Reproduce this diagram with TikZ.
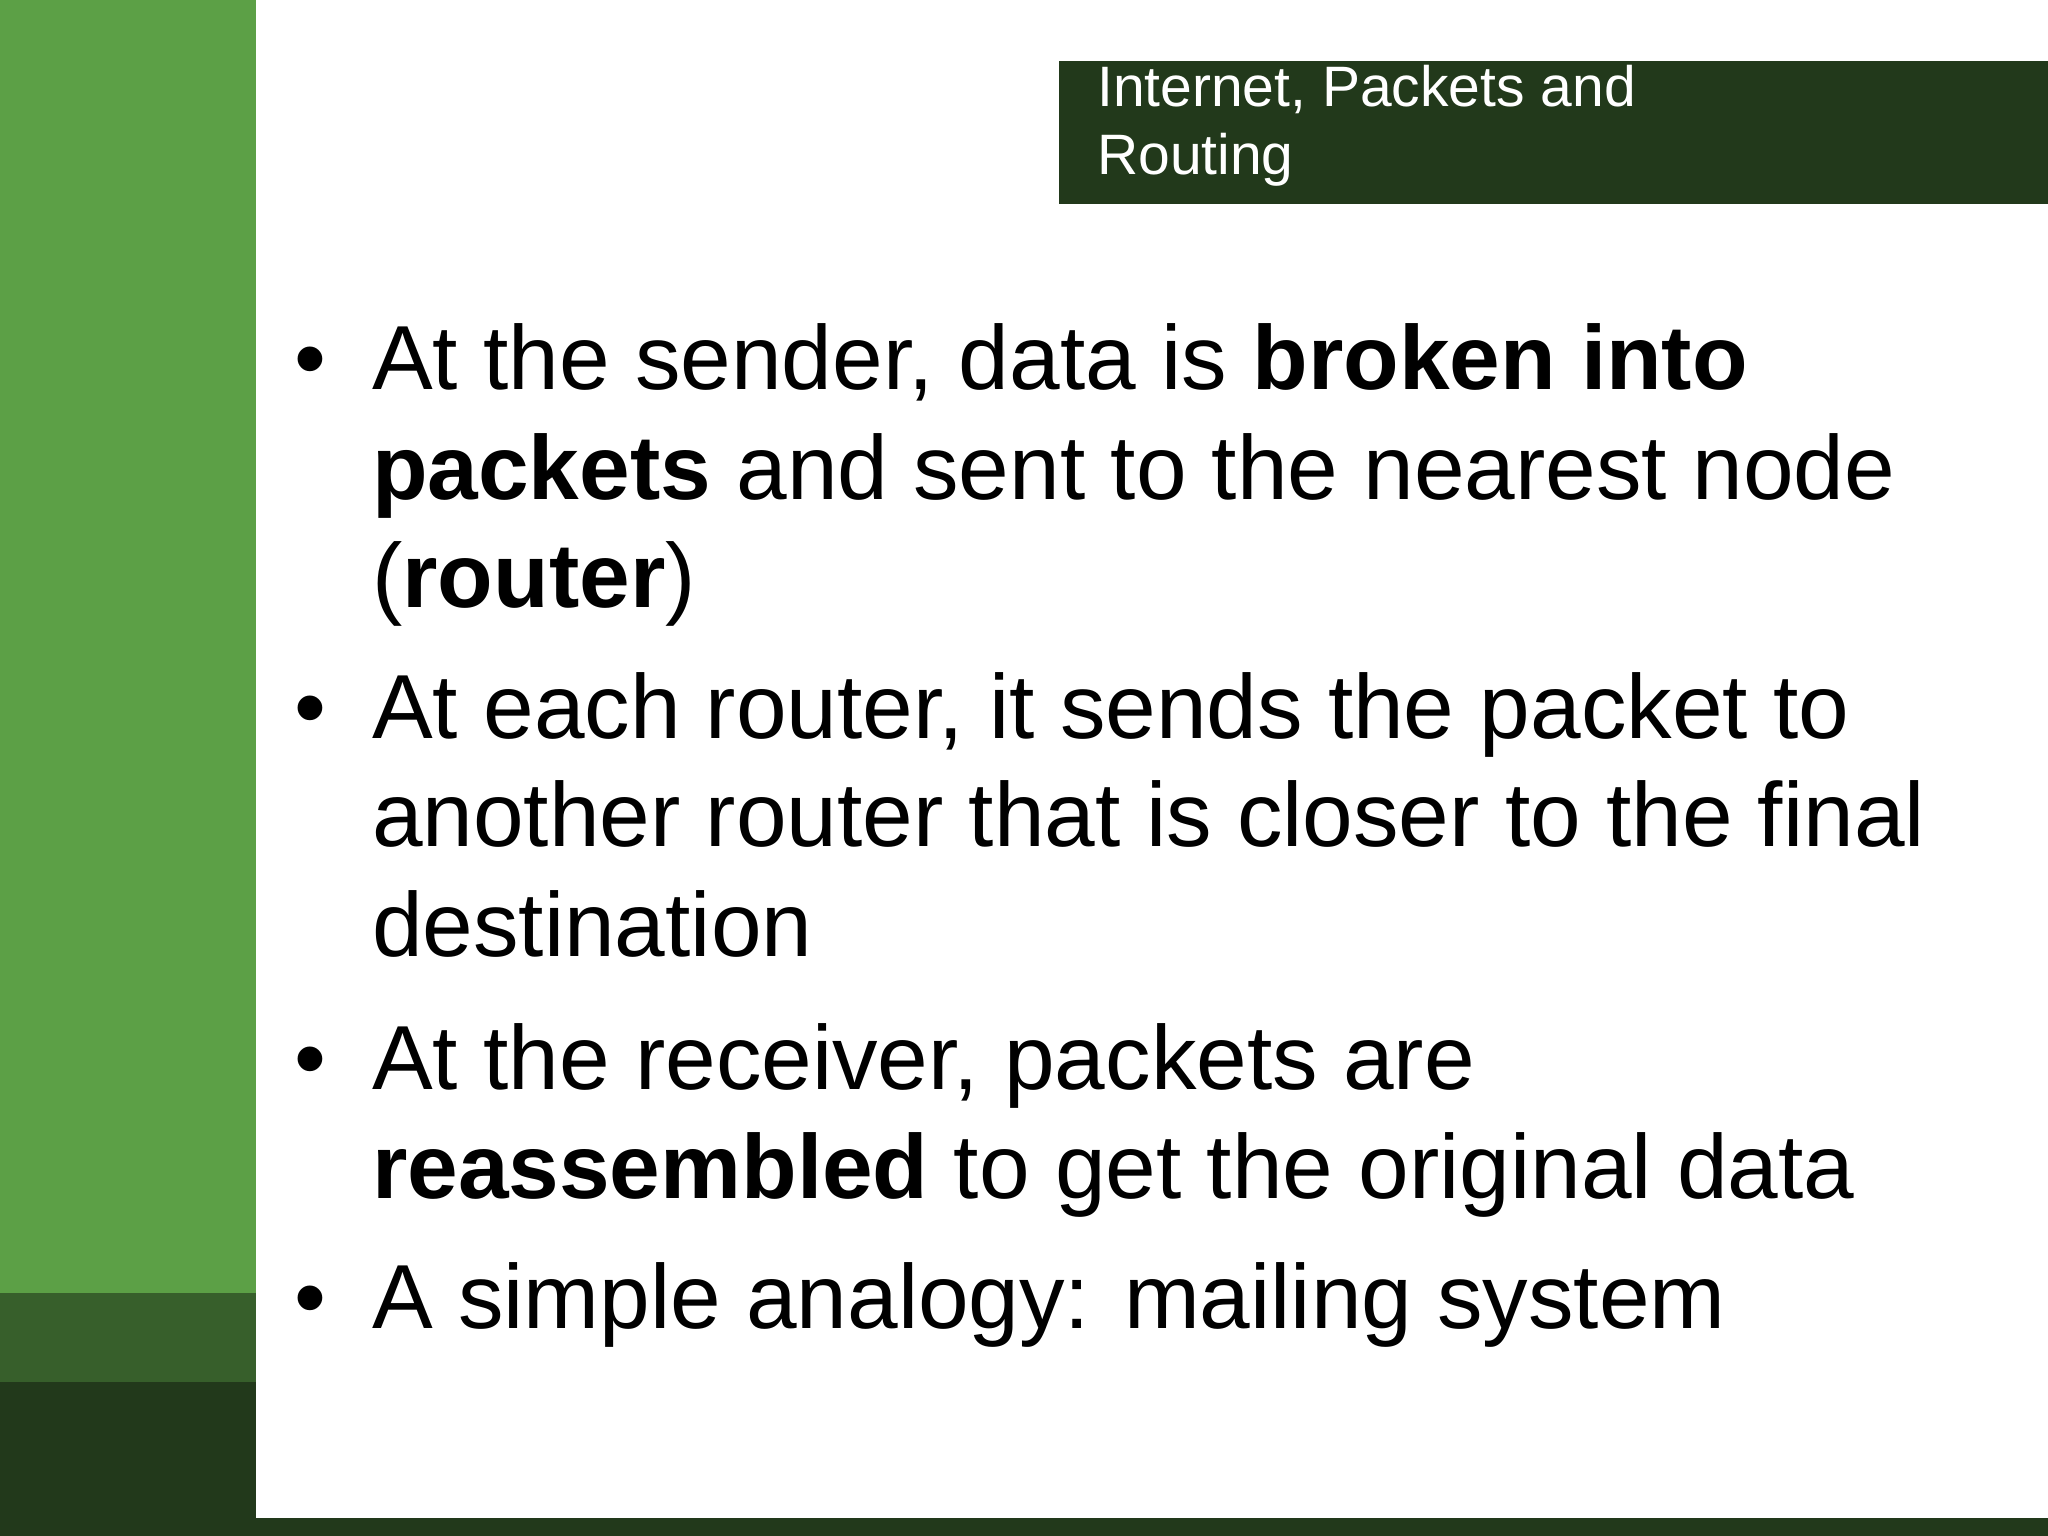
\documentclass[tikz,border=0pt]{standalone}
\usepackage{fontspec}
\setmainfont{Liberation Sans}
\definecolor{lgreen}{HTML}{5CA046}
\definecolor{mgreen}{HTML}{375F2B}
\definecolor{dgreen}{HTML}{22391B}
\tikzset{bl/.style={anchor=base west,inner sep=0pt,font=\fontsize{91}{107}\selectfont},
 tl/.style={anchor=base west,inner sep=0pt,text=white,font=\fontsize{57}{68}\selectfont}}
\begin{document}
\begin{tikzpicture}[x=1pt,y=-1pt]
\useasboundingbox (0,0) rectangle (2048,1536);
\fill[white] (0,0) rectangle (2048,1536);
\fill[lgreen] (0,0) rectangle (256,1293);
\fill[mgreen] (0,1293) rectangle (256,1382);
\fill[dgreen] (0,1382) rectangle (256,1536);
\fill[dgreen] (0,1518) rectangle (2048,1536);
\fill[dgreen] (1059,61) rectangle (2048,204);
\node[tl] (t1) at (1097,107) {Internet, Packets and};
\node[tl] (t2) at (1097,175) {Routing};
\foreach \y/\n in {389/b1,738/b2,1089/b3,1328/b4}
  \node[bl] (\n) at (294,\y) {•};
\node[bl] (l1) at (372,389) {At the sender, data is \textbf{broken into}};
\node[bl] (l2) at (372,499) {\textbf{packets} and sent to the nearest node};
\node[bl] (l3) at (372,607) {(\textbf{router})};
\node[bl] (l4) at (372,738) {At each router, it sends the packet to};
\node[bl] (l5) at (372,846) {another router that is closer to the final};
\node[bl] (l6) at (372,956) {destination};
\node[bl] (l7) at (372,1089) {At the receiver, packets are};
\node[bl] (l8) at (372,1198) {\textbf{reassembled} to get the original data};
\node[bl] (l9) at (372,1328) {A simple analogy: mailing system};
\end{tikzpicture}
\end{document}
